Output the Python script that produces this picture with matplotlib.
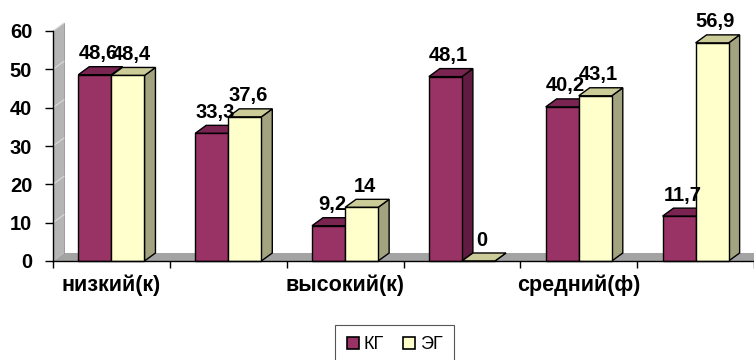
import matplotlib
matplotlib.use("Agg")
import matplotlib.pyplot as plt
from matplotlib.patches import Polygon
from matplotlib.lines import Line2D
import numpy as np

CATEGORIES = ["низкий(к)", "", "высокий(к)", "", "средний(ф)", ""]
KG = [48.6, 33.3, 9.2, 48.1, 40.2, 11.7]
EG = [48.4, 37.6, 14, 0, 43.1, 56.9]
SERIES = ["КГ", "ЭГ"]
Y_TICKS = [0, 10, 20, 30, 40, 50, 60]

BAR_W = 0.283
DX = 0.094   # depth offset, category units
DY = 2.09    # depth offset, value units

# front, top, side
KG_COLORS = ("#993366", "#7a2452", "#5f1c40")
EG_COLORS = ("#ffffcc", "#cccc99", "#a3a37f")

plt.rcParams["font.family"] = ["Liberation Sans", "DejaVu Sans"]


def fmt(v):
    return ("%g" % v).replace(".", ",")


def draw_bar(ax, x0, h, colors):
    front, top, side = colors
    x1 = x0 + BAR_W
    ax.add_patch(Polygon([(x1, 0), (x1 + DX, DY), (x1 + DX, h + DY), (x1, h)],
                         closed=True, fc=side, ec="black", lw=1.0, clip_on=False, zorder=3))
    ax.add_patch(Polygon([(x0, h), (x0 + DX, h + DY), (x1 + DX, h + DY), (x1, h)],
                         closed=True, fc=top, ec="black", lw=1.0, clip_on=False, zorder=3))
    ax.bar(x0, h, width=BAR_W, align="edge", color=front, edgecolor="black",
           lw=1.0, zorder=3, clip_on=False)
    ax.text(x0 + BAR_W / 2 + DX * 0.3, h + DY + 0.9, fmt(h), ha="center", va="bottom",
            fontsize=14.5, fontweight="bold", zorder=5, clip_on=False)


def main():
    fig = plt.figure(figsize=(7.54, 3.6), dpi=100)
    ax = fig.add_axes([53 / 754, 99 / 360, 701 / 754, 230 / 360])
    n = len(CATEGORIES)
    ax.set_xlim(-0.5, n - 0.5)
    ax.set_ylim(0, 60)

    # floor and side wall
    ax.add_patch(Polygon([(-0.5, 0), (n - 0.5, 0), (n - 0.5 + DX, DY), (-0.5 + DX, DY)],
                         closed=True, fc="#a3a3a3", ec="none", zorder=1, clip_on=False))
    ax.add_patch(Polygon([(-0.5, 0), (-0.5 + DX, DY), (-0.5 + DX, 60 + DY), (-0.5, 60)],
                         closed=True, fc="#b5b5b5", ec="none", zorder=1, clip_on=False))
    ax.plot([-0.5 + DX, -0.5 + DX], [DY, 60 + DY], color="#8c8c8c", lw=0.6, zorder=1, clip_on=False)
    for v in Y_TICKS[1:]:
        ax.plot([-0.5, -0.5 + DX], [v, v + DY], color="#dadada", lw=0.8, zorder=1, clip_on=False)

    for i in range(n):
        draw_bar(ax, i - BAR_W, KG[i], KG_COLORS)
        draw_bar(ax, i, EG[i], EG_COLORS)

    for s in ["top", "right"]:
        ax.spines[s].set_visible(False)
    ax.spines["left"].set_linewidth(1.0)
    ax.spines["bottom"].set_linewidth(1.0)
    ax.spines["left"].set_zorder(4)
    ax.spines["bottom"].set_zorder(4)

    ax.set_yticks(Y_TICKS)
    ax.set_yticklabels([str(v) for v in Y_TICKS], fontsize=14.5, fontweight="bold")
    ax.tick_params(axis="y", length=6, width=1, pad=9)

    ax.set_xticks(np.arange(n + 1) - 0.5)
    ax.set_xticklabels([])
    ax.tick_params(axis="x", which="major", length=5, width=1)
    ax.set_xticks(np.arange(n), minor=True)
    ax.set_xticklabels(CATEGORIES, minor=True, fontsize=15.5, fontweight="bold")
    ax.tick_params(axis="x", which="minor", length=0, pad=10)

    handles = [Line2D([], [], marker="s", ls="none", markersize=8, markerfacecolor=c[0],
                      markeredgecolor="black", markeredgewidth=1.2)
               for c in (KG_COLORS, EG_COLORS)]
    leg = fig.legend(handles, SERIES, loc="upper left", bbox_to_anchor=(335 / 754, 1 - 325 / 360),
                     ncol=2, fontsize=13, frameon=True, fancybox=False, framealpha=1,
                     edgecolor="#555555", handlelength=0.8, handletextpad=0.2,
                     columnspacing=1.0, borderpad=0.6, borderaxespad=0)
    leg.get_frame().set_linewidth(0.8)

    fig.savefig("out.png", dpi=100)


if __name__ == "__main__":
    main()
